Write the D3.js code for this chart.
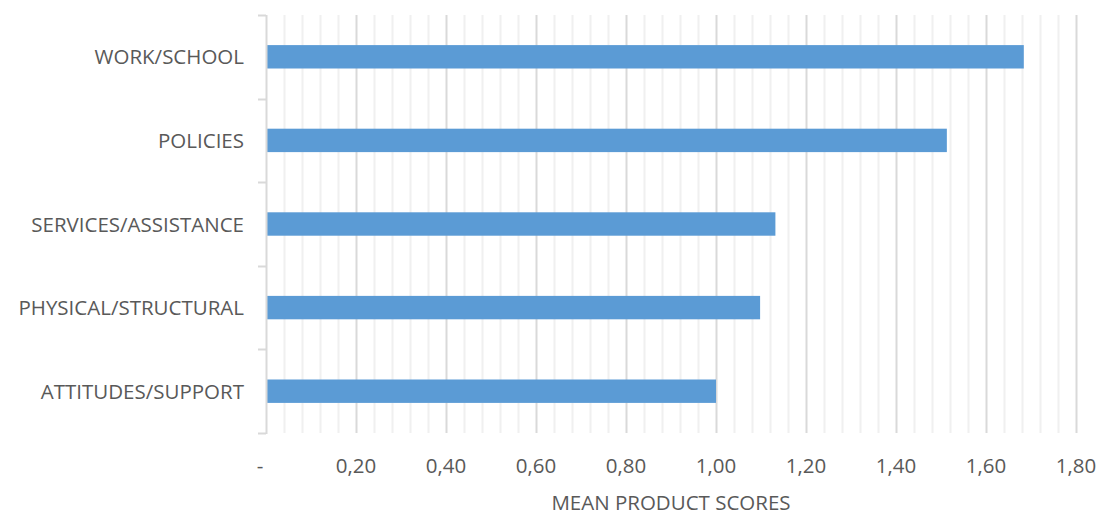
<!DOCTYPE html>
<html>
<head>
<meta charset="utf-8">
<script src="https://cdn.jsdelivr.net/npm/d3@7"></script>
<style>
  html, body { margin: 0; padding: 0; background: #fff; }
  svg text { font-family: "Open Sans", "Liberation Sans", sans-serif; fill: #595959; }
</style>
</head>
<body>
<svg id="chart" width="1100" height="516"></svg>
<script>
// Categories, top to bottom
const categories = ["WORK/SCHOOL", "POLICIES", "SERVICES/ASSISTANCE", "PHYSICAL/STRUCTURAL", "ATTITUDES/SUPPORT"];
// Mean product score per category
const scores = [1.684, 1.513, 1.132, 1.098, 1.00];
// Major axis ticks and their labels
const majorTicks = [0, 0.2, 0.4, 0.6, 0.8, 1.0, 1.2, 1.4, 1.6, 1.8];
const tickLabels = ["-", "0,20", "0,40", "0,60", "0,80", "1,00", "1,20", "1,40", "1,60", "1,80"];
const axisTitle = "MEAN PRODUCT SCORES";

const svg = d3.select("#chart");
const plotLeft = 266, plotRight = 1076, plotTop = 15, plotBottom = 433;
const fontSize = 20.5;

const x = d3.scaleLinear().domain([0, 1.8]).range([plotLeft, plotRight]);
const y = d3.scaleBand().domain(categories).range([plotTop, plotBottom]).paddingInner(0.72).paddingOuter(0.36);

// Minor gridlines every 0.04
const minorTicks = d3.range(0, 46).map(i => i * 0.04).filter(v => Math.abs(v / 0.2 - Math.round(v / 0.2)) > 1e-6);
svg.append("g").selectAll("line").data(minorTicks).join("line")
  .attr("x1", d => Math.round(x(d)) + 0.5).attr("x2", d => Math.round(x(d)) + 0.5)
  .attr("y1", plotTop).attr("y2", plotBottom)
  .attr("stroke", "#f0f0f0").attr("stroke-width", 2);

// Major gridlines
svg.append("g").selectAll("line").data(majorTicks.slice(1)).join("line")
  .attr("x1", d => Math.round(x(d)) + 0.5).attr("x2", d => Math.round(x(d)) + 0.5)
  .attr("y1", plotTop).attr("y2", plotBottom)
  .attr("stroke", "#d9d9d9").attr("stroke-width", 2);

// Bars
svg.append("g").selectAll("rect").data(categories).join("rect")
  .attr("x", x(0))
  .attr("y", d => y(d))
  .attr("width", (d, i) => x(scores[i]) - x(0))
  .attr("height", y.bandwidth())
  .attr("fill", "#5b9bd5");

// Category axis with tick marks between bands
const yAxisG = svg.append("g");
yAxisG.append("line")
  .attr("x1", plotLeft + 0.5).attr("x2", plotLeft + 0.5)
  .attr("y1", plotTop).attr("y2", plotBottom + 1)
  .attr("stroke", "#d9d9d9").attr("stroke-width", 2);
const boundaries = d3.range(categories.length + 1).map(i => plotTop + i * (plotBottom - plotTop) / categories.length);
yAxisG.selectAll("line.tick").data(boundaries).join("line")
  .attr("class", "tick")
  .attr("x1", plotLeft - 8).attr("x2", plotLeft)
  .attr("y1", d => Math.round(d) + 0.5).attr("y2", d => Math.round(d) + 0.5)
  .attr("stroke", "#d9d9d9").attr("stroke-width", 2);
yAxisG.selectAll("text").data(categories).join("text")
  .attr("x", plotLeft - 22)
  .attr("y", d => y(d) + y.bandwidth() / 2 + 7.5)
  .attr("text-anchor", "end")
  .attr("font-size", fontSize)
  .text(d => d);

// Value axis labels ("-" marks zero and sits just left of the axis)
svg.append("g").selectAll("text").data(majorTicks).join("text")
  .attr("x", d => d === 0 ? x(d) - 6 : x(d))
  .attr("y", 473)
  .attr("text-anchor", "middle")
  .attr("font-size", fontSize)
  .text((d, i) => tickLabels[i]);

// Axis title
svg.append("text")
  .attr("x", (plotLeft + plotRight) / 2)
  .attr("y", 510)
  .attr("text-anchor", "middle")
  .attr("font-size", fontSize)
  .text(axisTitle);
</script>
</body>
</html>
